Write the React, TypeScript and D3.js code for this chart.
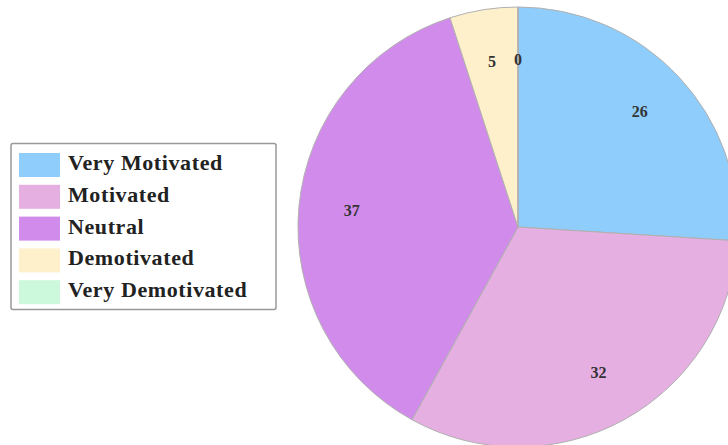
import React from "react";
import * as d3 from "d3";

const categories = ["Very Motivated", "Motivated", "Neutral", "Demotivated", "Very Demotivated"];
const values = [26, 32, 37, 5, 0];
const colors = ["#8fcefc", "#e5afe2", "#d18ceb", "#fff0cc", "#ccf8dc"];

export default function App() {
  const W = 728, H = 445;
  const cx = 518, cy = 227, r = 220, labelR = 167;
  const pie = d3.pie<number>().sort(null).value((d) => d);
  const arcs = pie(values);
  const arc = d3.arc<d3.PieArcDatum<number>>().innerRadius(0).outerRadius(r);
  const labelArc = d3.arc<d3.PieArcDatum<number>>().innerRadius(labelR).outerRadius(labelR);
  const legY = d3.scaleBand<string>().domain(categories).range([149, 308]).paddingInner(0);
  return (
    <svg width={W} height={H} style={{ position: "absolute", left: 0, top: 0 }}>
      <g transform={`translate(${cx},${cy})`}>
        {arcs.map((a, i) => (
          <path key={i} d={arc(a) || ""} fill={colors[i]} stroke="#b0b0b0" strokeWidth={1} />
        ))}
        {arcs.map((a, i) => {
          const [x, y] = labelArc.centroid(a);
          return (
            <text key={i} x={x} y={y - 1} textAnchor="middle" dominantBaseline="central"
              fontFamily="'Liberation Serif', serif" fontWeight="bold" fontSize={16} fill="#333">
              {values[i]}
            </text>
          );
        })}
      </g>
      <rect x={11} y={143.5} width={265} height={166} rx={2} fill="#fff" stroke="#999" strokeWidth={1.5} />
      {categories.map((c, i) => {
        const y = legY(c)!;
        return (
          <g key={c}>
            <rect x={19} y={y + 4} width={41} height={24} fill={colors[i]} />
            <text x={68} y={y + 21}
              fontFamily="'Liberation Serif', serif" fontWeight="bold" fontSize={22} letterSpacing={0.6} fill="#222">
              {c}
            </text>
          </g>
        );
      })}
    </svg>
  );
}
